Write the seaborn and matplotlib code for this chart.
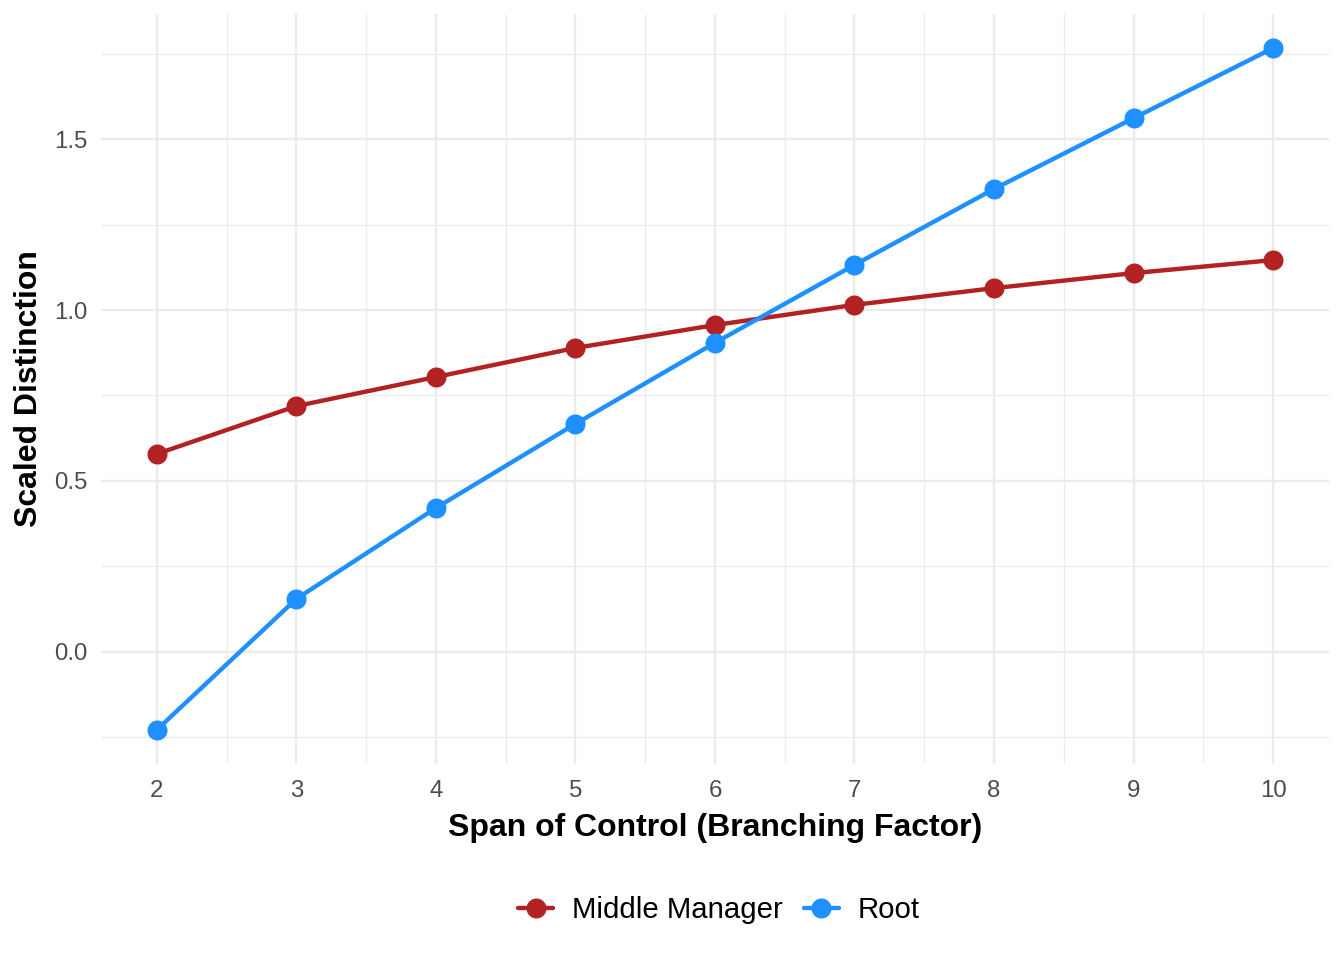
import pandas as pd
import seaborn as sns
import matplotlib.pyplot as plt
import numpy as np

span = [2, 3, 4, 5, 6, 7, 8, 9, 10]
middle_manager = [0.579, 0.719, 0.804, 0.889, 0.956, 1.015, 1.064, 1.108, 1.146]
root = [-0.228, 0.155, 0.421, 0.667, 0.904, 1.132, 1.354, 1.561, 1.766]
roles = ['Middle Manager', 'Root']
colors = {'Middle Manager': '#B22222', 'Root': '#1E90FF'}

df = pd.DataFrame({
    'span': span * 2,
    'value': middle_manager + root,
    'role': [roles[0]] * len(span) + [roles[1]] * len(span),
})

sns.set_style('white')
plt.rcParams['font.family'] = ['Liberation Sans', 'DejaVu Sans']
plt.rcParams['text.color'] = 'black'
plt.rcParams['axes.labelcolor'] = 'black'

fig = plt.figure(figsize=(7, 5), dpi=192)
ax = fig.add_axes([0.0751, 0.2042, 0.9137, 0.7812])

sns.lineplot(data=df, x='span', y='value', hue='role', palette=colors,
             marker='o', markersize=7.5, markeredgewidth=0, linewidth=1.65,
             ax=ax, legend=True)

# ggplot-like 5% expansion
xr = max(span) - min(span)
ax.set_xlim(min(span) - 0.05 * xr, max(span) + 0.05 * xr)
allv = middle_manager + root
yr = max(allv) - min(allv)
ax.set_ylim(min(allv) - 0.05 * yr, max(allv) + 0.05 * yr)

ax.set_xticks(span)
ax.set_xticks(np.arange(2.5, 10, 1), minor=True)
ax.set_yticks([0.0, 0.5, 1.0, 1.5])
ax.set_yticklabels(['0.0', '0.5', '1.0', '1.5'])
ax.set_yticks([-0.25, 0.25, 0.75, 1.25, 1.75], minor=True)
ax.grid(which='major', color='#EBEBEB', linewidth=0.9)
ax.grid(which='minor', color='#EBEBEB', linewidth=0.45)
ax.set_axisbelow(True)
ax.tick_params(which='both', length=0, labelsize=9, labelcolor='#4D4D4D')
ax.tick_params(axis='x', pad=6)
ax.tick_params(axis='y', pad=5)
for s in ax.spines.values():
    s.set_visible(False)

ax.set_xlabel('Span of Control (Branching Factor)', fontsize=12, fontweight='bold',
              labelpad=4, color='black')
ax.set_ylabel('Scaled Distinction', fontsize=12, fontweight='bold', labelpad=4,
              color='black')

handles, labels = ax.get_legend_handles_labels()
ax.legend_.remove()
leg = fig.legend(handles, labels, loc='center', bbox_to_anchor=(0.535, 0.052), ncol=2,
                 frameon=False, fontsize=11, handlelength=1.2, handletextpad=0.65,
                 columnspacing=0.7)
for t in leg.get_texts():
    t.set_color('black')

fig.savefig('out.png', dpi=192, facecolor='white')
